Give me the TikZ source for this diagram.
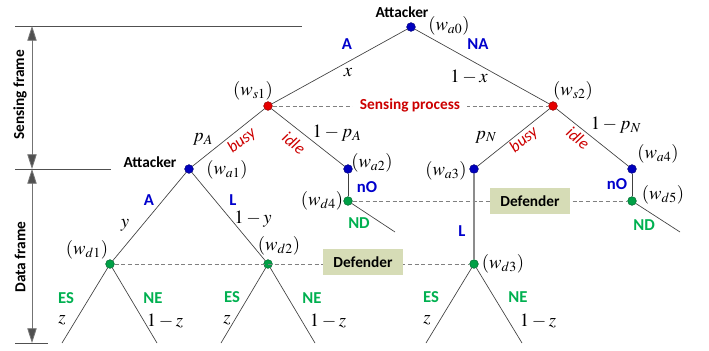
\documentclass[tikz,border=0pt]{standalone}
\usepackage{mathptmx}
\usepackage{fontspec}
\setsansfont{Carlito}
\usetikzlibrary{arrows.meta}
\definecolor{actblue}{RGB}{0,0,204}
\definecolor{defgreen}{RGB}{0,176,80}
\definecolor{senred}{RGB}{204,0,0}
\definecolor{dotblue}{RGB}{0,0,190}
\definecolor{dotred}{RGB}{230,0,0}
\definecolor{dotgreen}{RGB}{0,160,70}
\definecolor{boxfill}{RGB}{214,220,182}
\definecolor{framegray}{RGB}{80,80,80}

\begin{document}
\begin{tikzpicture}[x=0.75pt,y=0.75pt,yscale=-1,xscale=1,
  dot/.style={circle,inner sep=0pt,minimum size=6.5pt,draw=#1!65!black,line width=0.4pt,fill=#1},
  branch/.style={draw=black!75,line width=0.5pt},
  info/.style={draw=black!50,line width=0.6pt,dash pattern=on 3pt off 2pt},
  sans/.style={inner sep=0.75pt,font=\sffamily\bfseries\fontsize{11.5}{13}\selectfont},
  act/.style={sans,text=actblue,font=\sffamily\bfseries\fontsize{12.5}{14}\selectfont},
  def/.style={act,text=defgreen},
  sense/.style={inner sep=0.75pt,font=\sffamily\itshape\fontsize{12.5}{14}\selectfont,text=senred},
  mth/.style={inner sep=0.75pt,font=\fontsize{14}{16}\selectfont},
  defbox/.style={sans,fill=boxfill,minimum width=60pt,minimum height=19pt},
  dimarrow/.style={draw=framegray!80,line width=0.6pt,{Triangle[length=11pt,width=7pt,fill=framegray]}-{Triangle[length=11pt,width=7pt,fill=framegray]}}
]
\useasboundingbox (0,0) rectangle (709,350);

% frame marks on the left
\draw [framegray,line width=0.6pt] (15,26) -- (302,26) ;
\draw [framegray,line width=0.6pt] (15,169) -- (111,169) ;
\draw [framegray,line width=0.6pt] (15,343) -- (48,343) ;
\coordinate (fTop) at (32,26);
\coordinate (fMid) at (32,169);
\coordinate (fBot) at (32,343);
\draw [dimarrow] (fTop) -- (fMid) ;
\draw [dimarrow] (fMid) -- (fBot) ;
\draw (20,95) node (lblSense) [sans,rotate=90] {Sensing frame};
\draw (20,257) node (lblData) [sans,rotate=90] {Data frame};

% decision nodes
\node (wa0) at (411,27) [dot=dotblue] {};
\node (ws1) at (268,106) [dot=dotred] {};
\node (ws2) at (553,106) [dot=dotred] {};
\node (wa1) at (189,169) [dot=dotblue] {};
\node (wa2) at (348,169) [dot=dotblue] {};
\node (wa3) at (474,169) [dot=dotblue] {};
\node (wa4) at (632,169) [dot=dotblue] {};
\node (wd4) at (348,201) [dot=dotgreen] {};
\node (wd5) at (632,201) [dot=dotgreen] {};
\node (wd1) at (110,264) [dot=dotgreen] {};
\node (wd2) at (268,264) [dot=dotgreen] {};
\node (wd3) at (474,264) [dot=dotgreen] {};

% free ends
\coordinate (e4) at (395,232);
\coordinate (e5) at (680,232);
\coordinate (e11) at (62,343);
\coordinate (e12) at (157,343);
\coordinate (e21) at (221,343);
\coordinate (e22) at (315,343);
\coordinate (e31) at (426,343);
\coordinate (e32) at (522,343);

% information sets
\draw [info] (ws1) -- (ws2) ;
\draw [info] (wd4) -- (wd5) ;
\draw [info] (wd1) -- (wd3) ;
\draw (410,105) node (lblProc) [sans,text=senred,fill=white,inner xsep=5pt] {Sensing process};
\draw (530,201) node (boxDef1) [defbox] {Defender};
\draw (363,262) node (boxDef2) [defbox] {Defender};

% branches
\draw [branch] (wa0) -- (ws1) ;
\draw [branch] (wa0) -- (ws2) ;
\draw [branch] (ws1) -- (wa1) ;
\draw [branch] (ws1) -- (wa2) ;
\draw [branch] (ws2) -- (wa3) ;
\draw [branch] (ws2) -- (wa4) ;
\draw [branch] (wa2) -- (wd4) ;
\draw [branch] (wd4) -- (e4) ;
\draw [branch] (wa4) -- (wd5) ;
\draw [branch] (wd5) -- (e5) ;
\draw [draw=black!45,line width=1pt] (wa3) -- (wd3) ;
\draw [branch] (wa1) -- (wd1) ;
\draw [branch] (wa1) -- (wd2) ;
\draw [branch] (wd1) -- (e11) ;
\draw [branch] (wd1) -- (e12) ;
\draw [branch] (wd2) -- (e21) ;
\draw [branch] (wd2) -- (e22) ;
\draw [branch] (wd3) -- (e31) ;
\draw [branch] (wd3) -- (e32) ;

% players and node names
\draw (402,12) node (lblAtt0) [sans] {Attacker};
\draw (150,162) node (lblAtt1) [sans] {Attacker};
\draw (449,26) node (nwa0) [mth] {$(w_{a0})$};
\draw (253,91) node (nws1) [mth] {$(w_{s1})$};
\draw (573,91) node (nws2) [mth] {$(w_{s2})$};
\draw (227,170) node (nwa1) [mth] {$(w_{a1})$};
\draw (372,163) node (nwa2) [mth] {$(w_{a2})$};
\draw (446,171) node (nwa3) [mth] {$(w_{a3})$};
\draw (658,154) node (nwa4) [mth] {$(w_{a4})$};
\draw (322,201) node (nwd4) [mth] {$(w_{d4})$};
\draw (663,195) node (nwd5) [mth] {$(w_{d5})$};
\draw (87,250) node (nwd1) [mth] {$(w_{d1})$};
\draw (279,246) node (nwd2) [mth] {$(w_{d2})$};
\draw (503,264) node (nwd3) [mth] {$(w_{d3})$};

% actions and probabilities
\draw (347,44) node (aA0) [act] {A};
\draw (348,73) node (pA0) [mth] {$x$};
\draw (478,44) node (aNA) [act] {NA};
\draw (469,77) node (pNA) [mth] {$1-x$};
\draw (203,139) node (pbA) [mth] {$p_A$};
\draw (242,141) node (sbA) [sense,rotate=38] {busy};
\draw (294,143) node (siA) [sense,rotate=-39] {idle};
\draw (337,133) node (piA) [mth] {$1-p_A$};
\draw (486,137) node (pbN) [mth] {$p_N$};
\draw (524,140) node (sbN) [sense,rotate=39] {busy};
\draw (578,138) node (siN) [sense,rotate=-39] {idle};
\draw (616,125) node (piN) [mth] {$1-p_N$};
\draw (367,187) node (aO4) [act] {nO};
\draw (359,223) node (dN4) [def] {ND};
\draw (617,184) node (aO5) [act] {nO};
\draw (644,225) node (dN5) [def] {ND};
\draw (462,231) node (aL3) [act] {L};
\draw (149,200) node (aA1) [act] {A};
\draw (125,225) node (pA1) [mth] {$y$};
\draw (233,200) node (aL1) [act] {L};
\draw (253,219) node (pL1) [mth] {$1-y$};
\draw (66,298) node (dES1) [def] {ES};
\draw (62,320) node (pES1) [mth] {$z$};
\draw (153,298) node (dNE1) [def] {NE};
\draw (165,321) node (pNE1) [mth] {$1-z$};
\draw (232,297) node (dES2) [def] {ES};
\draw (227,320) node (pES2) [mth] {$z$};
\draw (312,298) node (dNE2) [def] {NE};
\draw (328,321) node (pNE2) [mth] {$1-z$};
\draw (431,297) node (dES3) [def] {ES};
\draw (427,320) node (pES3) [mth] {$z$};
\draw (518,297) node (dNE3) [def] {NE};
\draw (538,321) node (pNE3) [mth] {$1-z$};
\end{tikzpicture}
\end{document}
